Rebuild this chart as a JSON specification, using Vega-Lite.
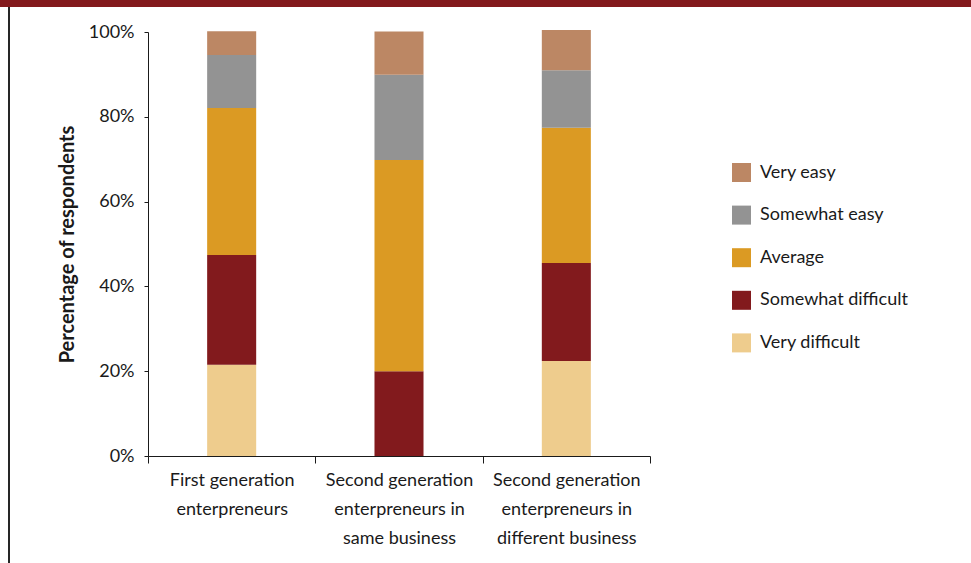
{
  "$schema": "https://vega.github.io/schema/vega-lite/v6.json",
  "background": "white",
  "padding": 0,
  "spacing": 0,
  "config": {
    "view": {"stroke": null},
    "font": "Lato",
    "axis": {"labelColor": "#1a1a1a", "titleColor": "#1a1a1a", "domainColor": "#1a1a1a", "tickColor": "#1a1a1a", "grid": false},
    "legend": {"labelColor": "#1a1a1a"}
  },
  "vconcat": [
    {
      "width": 971,
      "height": 7,
      "data": {"values": []},
      "mark": "rect",
      "view": {"fill": "#831A1D", "stroke": null}
    },
    {
      "spacing": 0,
      "hconcat": [
        {"width": 8, "height": 1, "data": {"values": []}, "mark": "rect", "view": {"stroke": null}},
        {"width": 2, "height": 556, "data": {"values": []}, "mark": "rect", "view": {"fill": "#262626", "stroke": null}},
        {"width": 47, "height": 1, "data": {"values": []}, "mark": "rect", "view": {"stroke": null}},
        {
          "spacing": 0,
          "vconcat": [
            {"width": 10, "height": 16, "data": {"values": []}, "mark": "rect", "view": {"stroke": null}},
            {
              "width": 502,
              "height": 424,
              "data": {
                "values": [
                  {"group": "First generation enterpreneurs", "level": "Very difficult", "pct": 21.5},
                  {"group": "First generation enterpreneurs", "level": "Somewhat difficult", "pct": 25.9},
                  {"group": "First generation enterpreneurs", "level": "Average", "pct": 34.7},
                  {"group": "First generation enterpreneurs", "level": "Somewhat easy", "pct": 12.5},
                  {"group": "First generation enterpreneurs", "level": "Very easy", "pct": 5.6},
                  {"group": "Second generation enterpreneurs in same business", "level": "Very difficult", "pct": 0},
                  {"group": "Second generation enterpreneurs in same business", "level": "Somewhat difficult", "pct": 20.0},
                  {"group": "Second generation enterpreneurs in same business", "level": "Average", "pct": 49.8},
                  {"group": "Second generation enterpreneurs in same business", "level": "Somewhat easy", "pct": 20.1},
                  {"group": "Second generation enterpreneurs in same business", "level": "Very easy", "pct": 10.2},
                  {"group": "Second generation enterpreneurs in different business", "level": "Very difficult", "pct": 22.4},
                  {"group": "Second generation enterpreneurs in different business", "level": "Somewhat difficult", "pct": 23.1},
                  {"group": "Second generation enterpreneurs in different business", "level": "Average", "pct": 31.9},
                  {"group": "Second generation enterpreneurs in different business", "level": "Somewhat easy", "pct": 13.6},
                  {"group": "Second generation enterpreneurs in different business", "level": "Very easy", "pct": 9.5}
                ]
              },
              "transform": [
                {"calculate": "indexof(['Very difficult','Somewhat difficult','Average','Somewhat easy','Very easy'], datum.level)", "as": "stackOrder"}
              ],
              "mark": {"type": "bar", "width": {"band": 0.293}},
              "encoding": {
                "x": {
                  "field": "group",
                  "type": "nominal",
                  "sort": ["First generation enterpreneurs", "Second generation enterpreneurs in same business", "Second generation enterpreneurs in different business"],
                  "scale": {"paddingInner": 0, "paddingOuter": 0},
                  "axis": {
                    "title": null,
                    "labelAngle": 0,
                    "tickBand": "extent",
                    "tickSize": 7,
                    "labelPadding": 8,
                    "labelFontSize": 18,
                    "labelLineHeight": 29,
                    "labelLimit": 0,
                    "labelExpr": "datum.value == 'First generation enterpreneurs' ? ['First generation', 'enterpreneurs'] : datum.value == 'Second generation enterpreneurs in same business' ? ['Second generation', 'enterpreneurs in', 'same business'] : datum.value == 'Second generation enterpreneurs in different business' ? ['Second generation', 'enterpreneurs in', 'different business'] : ''"
                  }
                },
                "y": {
                  "field": "pct",
                  "type": "quantitative",
                  "stack": "zero",
                  "scale": {"domain": [0, 100], "nice": false},
                  "axis": {
                    "values": [0, 20, 40, 60, 80, 100],
                    "labelExpr": "datum.value + '%'",
                    "title": "Percentage of respondents",
                    "titleFontSize": 20,
                    "titleFontWeight": "bold",
                    "titlePadding": 11,
                    "labelFontSize": 18,
                    "labelPadding": 10,
                    "tickSize": 4
                  }
                },
                "color": {
                  "field": "level",
                  "type": "nominal",
                  "scale": {
                    "domain": ["Very easy", "Somewhat easy", "Average", "Somewhat difficult", "Very difficult"],
                    "range": ["#BC8764", "#939393", "#DB9A23", "#821A1D", "#EECC8D"]
                  },
                  "legend": {
                    "title": null,
                    "orient": "none",
                    "legendX": 732,
                    "legendY": 163,
                    "padding": 0,
                    "symbolType": "square",
                    "symbolSize": 361,
                    "symbolStrokeWidth": 0,
                    "symbolOpacity": 1,
                    "labelFontSize": 18,
                    "labelOffset": 9,
                    "rowPadding": 23.6
                  }
                },
                "order": {"field": "stackOrder", "type": "quantitative"}
              }
            }
          ]
        }
      ]
    }
  ]
}
